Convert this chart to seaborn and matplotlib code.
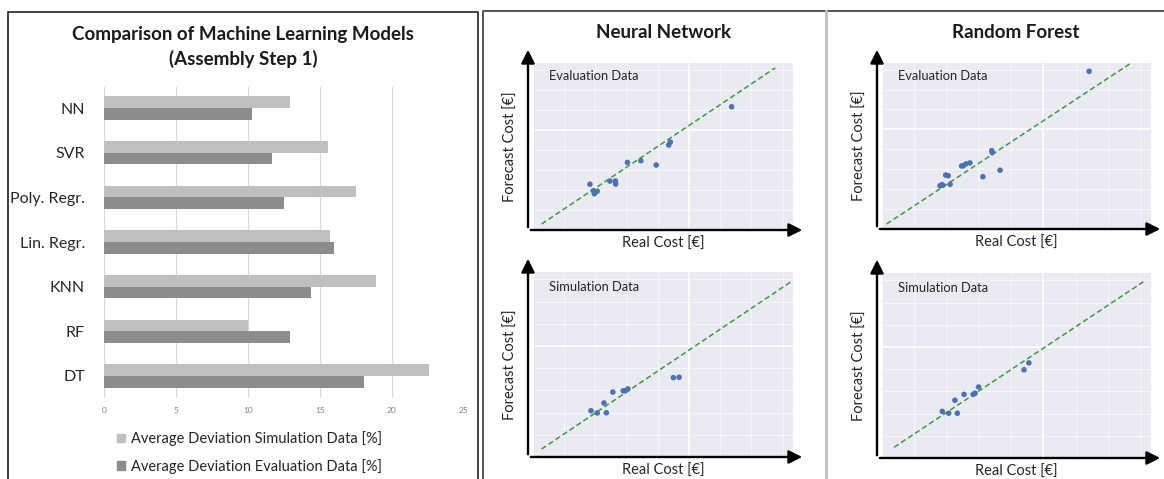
import numpy as np
import pandas as pd
import matplotlib
matplotlib.use("Agg")
import matplotlib.pyplot as plt
import seaborn as sns
from matplotlib.lines import Line2D
from matplotlib.patches import Patch, FancyArrowPatch
from matplotlib.ticker import MultipleLocator

# ---- bar chart data (average deviation in %) ----
models = ["NN", "SVR", "Poly. Regr.", "Lin. Regr.", "KNN", "RF", "DT"]
sim_dev = [12.9, 15.6, 17.5, 15.7, 18.9, 10.0, 22.6]
eval_dev = [10.3, 11.7, 12.5, 16.0, 14.4, 12.9, 18.1]
series_names = ["Average Deviation Simulation Data [%]",
                "Average Deviation Evaluation Data [%]"]

# ---- scatter data (real vs forecast cost, arbitrary units 0-100) ----
nn_eval_real = [21.9, 23.2, 23.6, 24.7, 29.6, 31.7, 31.8, 36.3, 41.5, 47.4, 52.2, 52.8, 76.4]
nn_eval_fcst = [27.4, 23.5, 21.7, 23.2, 29.3, 29.3, 27.5, 40.5, 41.5, 38.9, 50.9, 52.7, 73.8]
nn_eval_diag = ([3.3, 93.1], [3.6, 97.0])

rf_eval_real = [77.0, 40.8, 41.0, 43.9, 37.5, 32.7, 31.2, 30.2, 29.6, 23.7, 24.6, 25.3, 21.6, 22.3, 22.6]
rf_eval_fcst = [95.0, 47.2, 46.0, 35.4, 31.5, 39.8, 39.2, 38.1, 38.0, 32.5, 32.1, 26.9, 26.1, 26.7, 26.3]
rf_eval_diag = ([1.7, 92.2], [3.0, 99.6])

nn_sim_real = [22.3, 24.7, 27.3, 28.2, 30.7, 34.7, 35.5, 36.5, 54.0, 56.2]
nn_sim_fcst = [25.0, 23.8, 29.2, 23.9, 35.1, 35.8, 35.8, 36.8, 42.9, 43.1]
nn_sim_diag = ([3.3, 99.5], [4.3, 95.0])

rf_sim_real = [22.4, 24.8, 28.0, 27.1, 30.5, 33.9, 34.6, 35.9, 52.8, 54.6]
rf_sim_fcst = [25.2, 24.2, 24.2, 31.2, 34.4, 34.4, 35.0, 38.4, 47.7, 51.4]
rf_sim_diag = ([4.5, 97.2], [5.8, 95.3])

W, H = 1164, 479
FONT = ["Lato", "DejaVu Sans"]


def fx(px):
    return px / W


def fy(py):
    return 1 - py / H


def box(l, t, r, b):
    return [fx(l), fy(b), fx(r) - fx(l), fy(t) - fy(b)]


sns.set_theme(style="white")
plt.rcParams["font.family"] = FONT

fig = plt.figure(figsize=(W / 100, H / 100), dpi=100)

# ---------------- left: bar chart ----------------
df = pd.DataFrame({
    "model": models * 2,
    "value": sim_dev + eval_dev,
    "series": [series_names[0]] * len(models) + [series_names[1]] * len(models),
})
light, dark = "#bfbfbf", "#8c8c8c"

ax = fig.add_axes(box(104.3, 85.7, 463.3, 398.3))
sns.barplot(data=df, y="model", x="value", hue="series", orient="h",
            palette=[light, dark], width=0.52, ax=ax, legend=False,
            saturation=1, linewidth=0)
ax.set_xlim(0, 25)
ax.set_ylim(6.5, -0.5)
ax.set_xticks([0, 5, 10, 15, 20, 25])
ax.xaxis.grid(True, color="#d9d9d9", lw=0.8)
ax.set_axisbelow(True)
for s in ax.spines.values():
    s.set_visible(False)
ax.set_xlabel("")
ax.set_ylabel("")
ax.tick_params(axis="x", length=0, labelsize=6, labelcolor="#7f7f7f", pad=6)
ax.tick_params(axis="y", length=0, labelsize=11.5, labelcolor="#262626", pad=14)

fig.text(fx(243), fy(47), "Comparison of Machine Learning Models\n(Assembly Step 1)",
         ha="center", va="center", fontsize=13.5, fontweight="bold",
         color="#1a1a1a", linespacing=1.4)

handles = [Patch(color=light), Patch(color=dark)]
fig.legend(handles, series_names, loc="upper left",
           bbox_to_anchor=(fx(110), fy(424)), frameon=False, fontsize=10.5,
           handlelength=0.55, handleheight=0.55, handletextpad=0.4,
           labelspacing=0.85, borderpad=0, labelcolor="#262626")

# ---------------- right: scatter panels ----------------
panels = [
    ("Evaluation Data", nn_eval_real, nn_eval_fcst, nn_eval_diag, (533, 63, 793, 230)),
    ("Evaluation Data", rf_eval_real, rf_eval_fcst, rf_eval_diag, (882, 63, 1151, 229)),
    ("Simulation Data", nn_sim_real, nn_sim_fcst, nn_sim_diag, (533, 272, 793, 457)),
    ("Simulation Data", rf_sim_real, rf_sim_fcst, rf_sim_diag, (882, 273, 1151, 458)),
]

for label, xs, ys, diag, (l, t, r, b) in panels:
    sax = fig.add_axes(box(l, t, r, b))
    sax.set_facecolor("#eaeaf2")
    sns.scatterplot(x=xs, y=ys, ax=sax, color="#4c72b0", s=16,
                    edgecolor="none", zorder=3)
    sax.plot(diag[0], diag[1], ls=(0, (3.5, 2)), color="#3d9a3d", lw=1.1, zorder=2)
    sax.set_xlim(0, 100)
    sax.set_ylim(0, 100)
    for axis in (sax.xaxis, sax.yaxis):
        axis.set_major_locator(MultipleLocator(60))
        axis.set_minor_locator(MultipleLocator(12))
    sax.grid(True, which="major", color="white", lw=1.1)
    sax.grid(True, which="minor", color="white", lw=0.6, alpha=0.7)
    sax.set_axisbelow(True)
    sax.tick_params(which="both", length=0, labelbottom=False, labelleft=False)
    for s in sax.spines.values():
        s.set_visible(False)
    sax.text(0.06, 0.92, label, transform=sax.transAxes, fontsize=9.3,
             color="#262626", va="center", ha="left")
    sax.set_xlabel("Real Cost [€]", fontsize=10.5, color="#262626", labelpad=5)
    sax.set_ylabel("Forecast Cost [€]", fontsize=10.5, color="#262626", labelpad=11)

    # arrow axes
    ax0 = l - 5
    for tip in [(fx(r + 12), fy(b)), (fx(ax0), fy(t - 16))]:
        fig.add_artist(FancyArrowPatch(
            (fx(ax0), fy(b)), tip, transform=fig.transFigure,
            arrowstyle="-|>,head_length=8,head_width=4", lw=1.7, color="black",
            mutation_scale=1))

fig.text(fx(664), fy(33), "Neural Network", ha="center", va="center",
         fontsize=13.5, fontweight="bold", color="#1a1a1a")
fig.text(fx(1016), fy(33), "Random Forest", ha="center", va="center",
         fontsize=13.5, fontweight="bold", color="#1a1a1a")

# ---------------- frames ----------------
fig.add_artist(Line2D([fx(8), fx(8), fx(478), fx(478)],
                      [fy(H + 2), fy(12), fy(12), fy(H + 2)],
                      color="#404040", lw=1.4))
fig.add_artist(Line2D([fx(483), fx(483), fx(W + 2)],
                      [fy(H + 2), fy(10.5), fy(10.5)],
                      color="#555555", lw=1.4))
fig.add_artist(Line2D([fx(826), fx(826)], [fy(11), fy(H + 2)],
                      color="#c4c4c4", lw=2.2))

fig.savefig("out.png", dpi=100)
